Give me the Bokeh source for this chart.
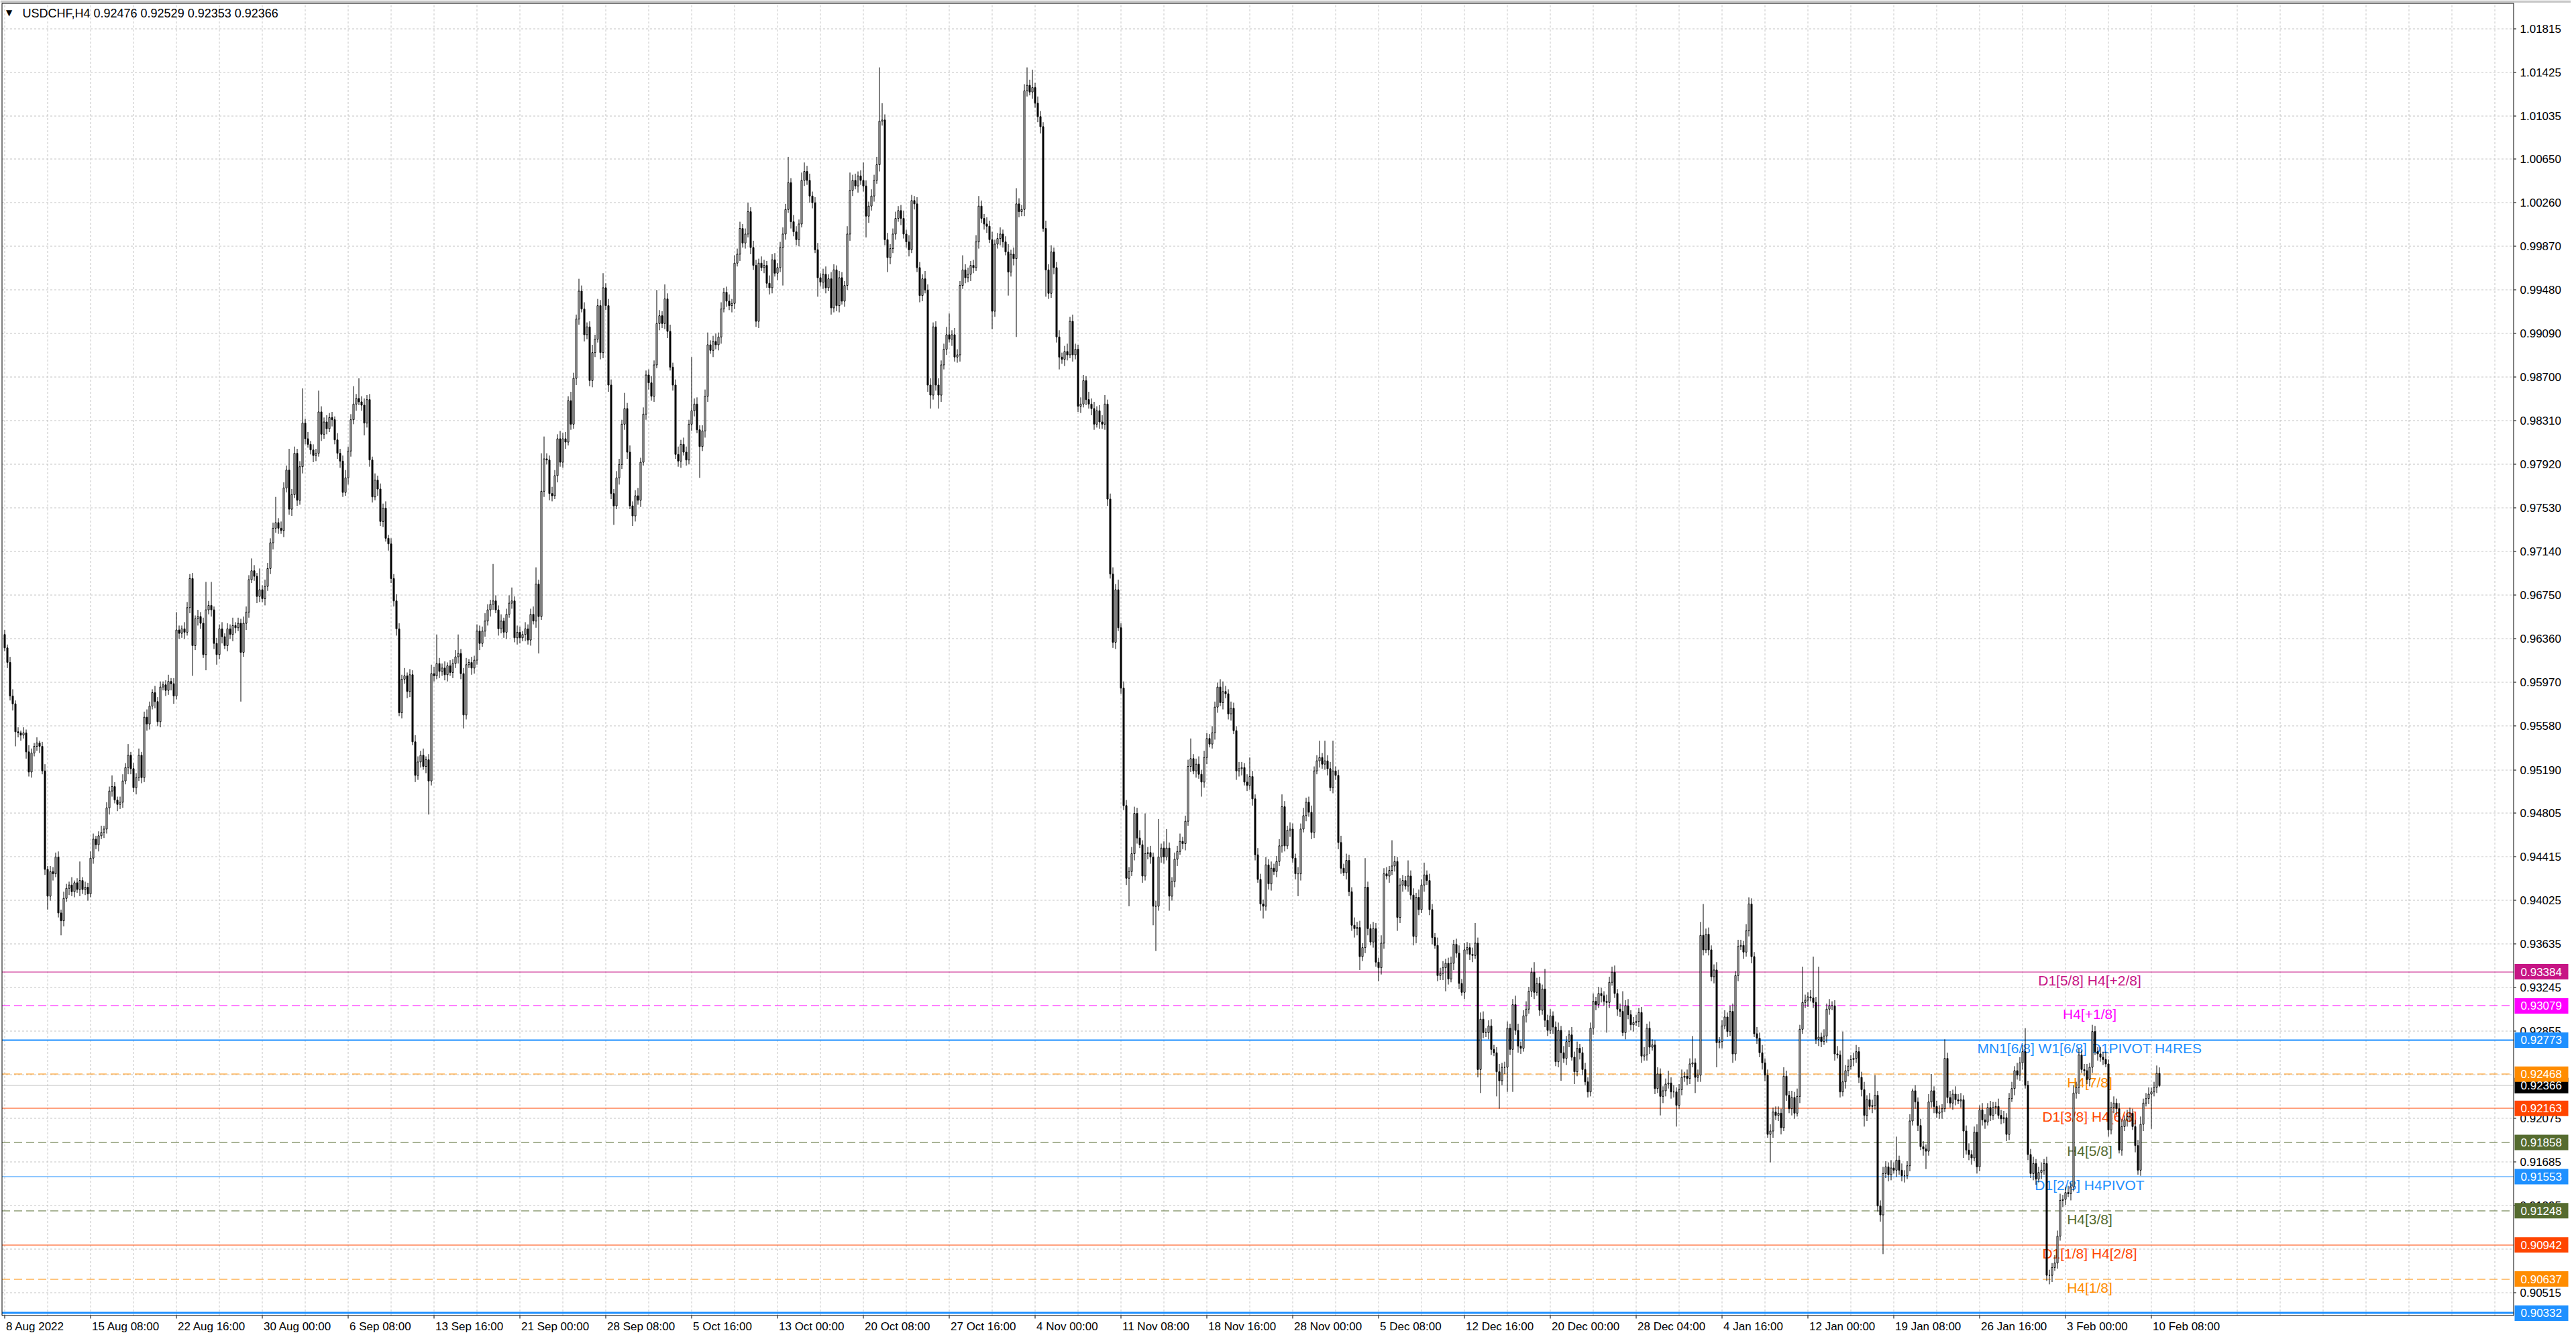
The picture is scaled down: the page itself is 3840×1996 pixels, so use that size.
import numpy as np
from bokeh.plotting import figure
from bokeh.models import Range1d, ColumnDataSource
from bokeh.core.properties import value
from bokeh.embed import file_html
from bokeh.resources import INLINE

# ---------------- data (prices in 1e-4 units, H4 bars, left to right) ----------------
symbol_title = "USDCHF,H4  0.92476 0.92529 0.92353 0.92366"
first_open = 9640

close_pts = [
    9628,9615,9585,9578,9553,9552,9550,9552,9535,9517,9534,9540,9543,9540,9518,9430,9406,9428,9426,9441,
    9391,9384,9404,9413,9416,9410,9418,9412,9420,9412,9414,9408,9440,9457,9452,9460,9463,9466,9485,9500,
    9504,9492,9488,9490,9509,9521,9532,9520,9503,9512,9532,9512,9566,9560,9576,9588,9580,9562,9593,9595,
    9590,9598,9596,9585,9644,9641,9645,9642,9664,9690,9630,9654,9656,9650,9622,9662,9666,9662,9632,9622,
    9645,9638,9630,9645,9640,9648,9646,9650,9624,9650,9660,9689,9697,9692,9674,9680,9672,9683,9699,9722,
    9735,9740,9735,9733,9771,9787,9752,9765,9802,9760,9790,9829,9815,9810,9805,9800,9802,9839,9819,9830,
    9824,9834,9832,9814,9802,9795,9767,9780,9804,9832,9846,9851,9848,9845,9829,9850,9796,9763,9778,9770,
    9741,9753,9726,9721,9690,9670,9645,9570,9600,9603,9589,9604,9544,9514,9526,9532,9522,9528,9509,9605,
    9603,9614,9607,9610,9604,9612,9606,9614,9620,9623,9605,9568,9613,9615,9610,9617,9643,9632,9643,9652,
    9662,9667,9670,9662,9645,9652,9642,9658,9668,9670,9637,9642,9637,9640,9645,9635,9658,9652,9685,9656,
    9768,9797,9796,9766,9764,9782,9815,9794,9815,9812,9849,9828,9869,9922,9947,9931,9908,9915,9867,9892,
    9904,9934,9892,9950,9934,9863,9766,9755,9780,9792,9828,9842,9803,9755,9746,9764,9760,9794,9837,9872,
    9865,9853,9881,9918,9925,9918,9940,9911,9879,9863,9801,9795,9810,9803,9796,9828,9840,9846,9823,9808,
    9822,9853,9899,9894,9902,9899,9906,9931,9946,9938,9934,9936,9972,9980,10003,9990,9998,10018,9986,9970,
    9920,9972,9968,9970,9954,9950,9975,9963,9968,9986,9998,10020,10044,10009,10000,9993,10007,10046,10054,10046,
    10032,10026,9984,9959,9955,9962,9950,9958,9932,9966,9934,9959,9938,9952,9998,10037,10046,10041,10050,10046,
    10041,10014,10023,10032,10046,10060,10099,10100,9993,9977,9985,9998,10012,10019,10012,9998,9991,9984,10028,10025,
    9968,9943,9958,9948,9863,9854,9915,9863,9854,9881,9895,9908,9904,9908,9888,9890,9952,9966,9959,9962,
    9970,9968,9991,10023,10012,10007,10005,9993,9929,9989,9994,9998,9991,9982,9964,9980,9976,10025,10018,10020,
    10126,10131,10125,10129,10115,10103,10094,10003,9966,9945,9982,9968,9906,9888,9886,9893,9890,9920,9890,9895,
    9844,9846,9867,9850,9846,9842,9828,9840,9830,9828,9846,9761,9694,9633,9680,9646,9592,9487,9422,9428,
    9444,9480,9458,9452,9424,9444,9445,9441,9397,9397,9441,9449,9441,9449,9406,9419,9439,9446,9455,9453,
    9473,9522,9529,9518,9524,9515,9508,9530,9547,9542,9552,9575,9593,9579,9589,9587,9569,9574,9554,9518,
    9520,9521,9508,9505,9513,9493,9443,9421,9399,9397,9434,9417,9431,9428,9437,9451,9486,9451,9465,9466,
    9440,9426,9426,9466,9478,9490,9481,9463,9518,9527,9530,9524,9527,9520,9503,9518,9514,9454,9431,9427,
    9438,9410,9380,9377,9378,9352,9360,9414,9377,9365,9377,9347,9342,9364,9426,9424,9429,9433,9437,9387,
    9416,9420,9415,9424,9407,9370,9405,9394,9416,9425,9420,9394,9369,9362,9335,9337,9342,9346,9332,9346,
    9363,9355,9328,9320,9358,9360,9354,9353,9364,9251,9296,9284,9284,9290,9269,9266,9249,9241,9253,9253,
    9288,9269,9309,9286,9272,9270,9299,9305,9321,9338,9320,9328,9304,9323,9295,9286,9299,9289,9258,9286,
    9266,9261,9276,9282,9262,9249,9270,9266,9251,9240,9231,9288,9312,9309,9319,9317,9312,9311,9329,9338,
    9319,9305,9303,9284,9308,9300,9291,9293,9294,9302,9263,9264,9288,9271,9273,9234,9247,9227,9232,9238,
    9239,9231,9231,9219,9233,9244,9245,9243,9256,9257,9244,9246,9371,9358,9372,9358,9334,9340,9275,9276,
    9290,9298,9285,9303,9265,9335,9361,9362,9356,9375,9399,9352,9283,9279,9266,9257,9246,9193,9196,9213,
    9210,9212,9199,9245,9228,9216,9226,9212,9227,9287,9311,9313,9316,9315,9311,9278,9280,9276,9281,9305,
    9308,9308,9265,9264,9231,9240,9250,9254,9260,9261,9267,9244,9233,9210,9224,9218,9219,9228,9129,9121,
    9158,9164,9157,9163,9161,9170,9161,9156,9156,9165,9205,9232,9222,9201,9182,9180,9178,9222,9232,9218,
    9212,9213,9216,9261,9226,9221,9229,9224,9223,9224,9196,9179,9175,9172,9195,9164,9215,9206,9204,9217,
    9210,9217,9218,9210,9207,9208,9193,9225,9234,9250,9246,9257,9267,9237,9175,9158,9167,9153,9159,9161,
    9167,9067,9067,9074,9078,9102,9134,9135,9141,9140,9146,9230,9235,9264,9251,9250,9242,9253,9285,9267,
    9265,9262,9260,9256,9197,9217,9221,9216,9179,9200,9206,9209,9212,9200,9183,9161,9202,9221,9225,9229,
    9231,9235,9247.6,9236.6,
]

upper_wick = [
    4,3,5,6,3,4,2,5,3,6,4,3,5,2,4,6,3,5,4,4,
    5,3,6,4,3,7,2,4,17,3,5,4,6,5,3,4,6,3,5,4,
    10,4,3,5,6,4,10,3,5,4,6,3,5,7,4,3,6,4,5,3,
    4,6,3,5,16,4,3,6,5,4,5,3,6,4,5,25,4,21,3,5,
    4,6,3,5,4,7,3,5,4,6,5,4,11,5,3,19,4,6,5,4,
    5,23,4,6,5,4,19,5,6,4,5,31,4,6,3,5,4,19,5,4,
    6,4,5,3,6,4,5,7,4,5,16,4,18,5,6,4,5,3,6,4,
    5,4,6,3,5,4,6,5,4,7,3,5,4,6,5,4,6,3,5,8,
    6,26,5,4,6,3,5,4,6,17,4,5,6,3,5,4,6,5,4,7,
    5,4,33,5,4,6,3,5,7,12,4,6,5,3,6,4,5,7,15,4,
    34,20,5,4,6,5,4,7,5,6,4,8,5,4,11,5,6,4,5,7,
    4,6,5,13,4,6,5,4,6,5,4,14,5,6,4,5,7,4,6,4,
    5,6,4,30,5,4,13,5,6,4,5,7,4,6,5,4,48,5,6,4,
    5,6,11,4,5,7,4,6,4,5,6,4,7,5,6,4,5,8,4,6,
    5,4,6,5,4,7,5,6,4,5,6,5,23,4,6,5,4,7,8,5,
    6,4,5,6,4,5,7,4,6,5,4,6,5,4,7,16,5,6,4,5,
    16,5,4,6,5,7,48,15,5,6,4,5,6,4,5,7,4,6,5,4,
    6,5,4,7,5,6,4,5,6,4,5,7,19,4,6,5,4,13,5,6,
    4,5,6,9,5,4,6,5,7,4,5,6,4,5,7,4,6,14,5,4,
    6,16,5,16,4,6,5,4,7,5,6,4,5,6,4,5,7,4,6,5,
    4,6,5,4,7,5,6,4,5,6,8,4,5,6,5,9,4,6,5,4,
    6,6,5,7,4,36,5,6,4,5,34,4,6,17,5,4,6,5,7,4,
    5,6,18,4,5,7,4,6,5,4,6,5,4,7,9,5,4,6,5,4,
    6,5,4,7,17,5,4,6,5,4,7,5,6,4,5,6,11,5,4,6,
    5,4,6,5,7,4,5,6,4,5,15,4,18,5,6,27,4,5,6,4,
    6,5,4,7,5,6,4,26,5,4,6,5,4,7,5,6,4,23,5,4,
    6,5,4,14,5,6,4,7,5,11,4,6,5,4,7,5,6,4,5,6,
    4,5,7,4,6,5,4,6,18,5,6,7,4,5,6,4,5,7,4,5,
    6,4,5,8,6,4,5,7,4,4,9,5,6,4,18,5,6,4,5,7,
    4,6,5,4,7,5,6,4,5,6,4,5,7,4,6,5,4,6,5,5,
    6,4,5,18,5,6,4,5,6,4,5,7,4,6,5,4,6,5,4,5,
    11,5,6,4,5,7,4,6,5,24,4,5,12,28,5,6,4,5,7,4,
    5,6,4,5,7,4,6,5,4,6,6,5,4,6,5,7,4,5,6,4,
    5,6,4,8,5,4,6,5,7,4,32,5,4,6,37,5,63,4,6,5,
    6,4,5,7,4,45,5,6,4,5,6,4,5,7,4,6,5,18,4,5,
    6,5,4,7,5,21,4,6,5,4,6,2,5,4,6,5,4,7,15,4,
    5,6,4,17,5,6,4,7,5,6,4,5,6,4,5,7,4,6,5,4,
    6,5,4,7,5,6,4,5,6,4,7,5,6,21,4,5,6,4,5,7,
    4,6,5,4,7,5,6,4,5,6,4,7,5,6,4,5,6,4,6,5,
    4,6,5,7,4,5,6,4,5,7,4,6,5,4,6,5,7,4,5,6,
    4,5,7,5.3,
]

lower_wick = [
    3,5,4,6,13,4,5,3,6,4,5,3,4,6,3,5,12,4,6,3,
    4,13,5,3,6,4,5,3,6,4,5,6,3,5,4,6,3,5,4,6,
    5,3,6,4,5,3,6,5,4,6,3,5,4,6,5,3,6,4,5,3,
    5,4,6,7,3,5,4,6,3,5,27,4,6,5,3,14,4,6,5,9,
    4,6,3,5,4,6,5,3,44,4,6,5,3,4,6,5,3,6,4,5,
    6,4,5,3,6,4,5,6,3,5,4,6,5,3,4,6,5,3,6,4,
    5,3,6,4,5,6,4,3,6,5,4,6,3,5,11,4,6,5,3,6,
    4,5,3,6,4,5,6,3,5,4,6,5,3,6,4,5,3,6,30,4,
    5,3,6,4,5,6,3,5,4,6,5,12,4,3,6,5,4,6,3,5,
    4,6,5,3,6,4,5,6,3,5,4,6,5,3,6,4,5,3,6,33,
    3,5,4,6,5,3,6,4,5,6,3,5,4,6,5,3,6,4,5,6,
    4,3,6,5,4,6,5,17,3,6,4,5,6,3,9,5,4,6,3,5,
    6,4,5,3,6,4,5,6,3,5,4,5,6,3,5,4,6,5,3,28,
    4,6,5,3,6,4,5,6,3,5,4,6,5,3,6,4,5,3,6,4,
    5,6,3,5,4,6,5,3,6,4,34,5,3,6,4,5,6,3,5,4,
    6,5,3,17,4,6,5,3,6,4,5,6,3,5,4,6,5,3,6,4,
    5,19,6,4,5,3,6,4,5,13,6,4,5,3,6,4,5,6,3,5,
    4,6,5,3,6,12,4,5,12,6,4,5,3,6,4,5,6,3,5,4,
    6,5,3,6,4,5,6,3,16,5,4,6,5,3,21,4,6,70,5,4,
    6,5,3,6,4,5,6,3,24,5,4,6,5,11,4,6,5,3,6,4,
    5,6,3,5,4,6,5,3,6,4,5,6,4,5,6,3,5,4,6,25,
    4,6,5,3,6,4,5,6,17,40,4,5,6,3,13,4,5,6,3,5,
    6,4,5,3,6,4,13,5,6,3,4,6,5,3,6,4,5,6,3,8,
    5,6,3,5,4,6,5,3,6,11,4,5,6,3,5,4,6,5,3,6,
    4,5,20,6,3,5,4,6,5,3,6,4,5,6,3,5,4,6,5,3,
    6,4,5,8,6,12,4,5,6,3,5,4,12,6,5,3,6,4,5,12,
    5,6,3,5,4,8,6,5,3,6,4,5,6,3,5,4,6,21,5,3,
    6,4,5,3,6,4,5,6,3,7,21,5,4,6,5,3,22,25,4,6,
    22,5,38,4,6,5,3,6,4,5,6,3,5,4,6,5,3,6,4,5,
    25,4,6,5,3,11,4,6,5,3,5,4,6,5,3,6,4,27,5,3,
    4,6,5,3,6,4,5,6,3,5,6,4,5,6,3,5,4,17,6,5,
    4,6,5,19,3,5,4,6,5,3,14,4,6,5,3,5,4,6,22,5,
    6,3,5,4,8,6,5,3,6,4,5,6,3,5,4,6,5,3,25,6,
    4,5,6,3,5,4,6,5,3,6,4,5,6,3,5,4,6,5,3,6,
    5,4,6,3,5,4,6,5,3,6,4,5,6,10,5,3,6,4,5,6,
    35,4,6,5,3,6,4,5,6,3,5,4,6,5,3,6,16,4,5,6,
    4,5,6,3,5,4,6,5,3,6,24,4,5,6,3,6,4,5,6,3,
    5,4,6,3,5,4,6,5,3,6,4,5,6,3,5,4,6,5,3,6,
    4,5,8,6,3,5,4,6,5,3,6,4,5,6,3,5,4,6,5,3,
    6,4,5,3,6,4,5,6,3,5,4,6,5,3,6,4,5,6,3,5,
    31,4,5,1.3,
]

time_labels = ["8 Aug 2022", "15 Aug 08:00", "22 Aug 16:00", "30 Aug 00:00", "6 Sep 08:00",
               "13 Sep 16:00", "21 Sep 00:00", "28 Sep 08:00", "5 Oct 16:00", "13 Oct 00:00",
               "20 Oct 08:00", "27 Oct 16:00", "4 Nov 00:00", "11 Nov 08:00", "18 Nov 16:00",
               "28 Nov 00:00", "5 Dec 08:00", "12 Dec 16:00", "20 Dec 00:00", "28 Dec 04:00",
               "4 Jan 16:00", "12 Jan 00:00", "19 Jan 08:00", "26 Jan 16:00", "3 Feb 00:00",
               "10 Feb 08:00"]
time_label_bars = [0, 32, 64, 96, 128, 160, 192, 224, 256, 288, 320, 352, 384, 416, 448,
                   480, 512, 544, 576, 608, 640, 672, 704, 736, 768, 800]

price_ticks = [1.01815, 1.01425, 1.01035, 1.00650, 1.00260, 0.99870, 0.99480, 0.99090,
               0.98700, 0.98310, 0.97920, 0.97530, 0.97140, 0.96750, 0.96360, 0.95970,
               0.95580, 0.95190, 0.94805, 0.94415, 0.94025, 0.93635, 0.93245, 0.92855,
               0.92465, 0.92075, 0.91685, 0.91295, 0.90905, 0.90515]
hidden_ticks = [0.92465, 0.90905]

level_values = [0.93384, 0.93079, 0.92773, 0.92468, 0.92163, 0.91858,
                0.91553, 0.91248, 0.90942, 0.90637, 0.90332]
level_names = ["D1[5/8] H4[+2/8]", "H4[+1/8]", "MN1[6/8] W1[6/8] D1PIVOT H4RES", "H4[7/8]",
               "D1[3/8] H4[6/8]", "H4[5/8]", "D1[2/8] H4PIVOT", "H4[3/8]",
               "D1[1/8] H4[2/8]", "H4[1/8]", ""]
level_colors = ["#C71585", "#FF00FF", "#1E90FF", "#FF8C00", "#FF4500", "#556B2F",
                "#1E90FF", "#556B2F", "#FF4500", "#FF8C00", "#1E90FF"]
level_dashed = [False, True, False, True, False, True, False, True, False, True, False]
level_widths = [1, 1, 2, 1, 1, 1, 1, 1, 1, 1, 3]
current_price = 0.92366

# ---------------- derived OHLC ----------------
C = np.array(close_pts, dtype=float) / 1e4
O = np.concatenate([[first_open / 1e4], C[:-1]])
H = np.maximum(O, C) + np.array(upper_wick, dtype=float) / 1e4
L = np.minimum(O, C) - np.array(lower_wick, dtype=float) / 1e4
X = np.arange(len(C), dtype=float)
bull = C >= O

# ---------------- geometry: one canvas, positions given in page pixels ----------------
W, HGT = 3832, 1990
PP = 0.00005998          # price per pixel
Y_TOP = 1.020698         # price at the very top pixel row


def xd(px):
    return (px - 6.5) / 4.0


def yd(py):
    return Y_TOP - py * PP


def ysnap(v, w=1):
    """price -> price of the nearest crisp pixel row for a line of width w"""
    py = (Y_TOP - v) / PP
    py = np.floor(py) + 0.5 if w % 2 == 1 else np.round(py)
    return yd(py)


CL, CR = xd(2.5), xd(3746.5)      # chart frame left / right
CT, CB = yd(4.5), yd(1960.5)      # chart frame top / bottom
FONT = "Liberation Sans"

p = figure(width=W, height=HGT, x_range=Range1d(xd(0), xd(W)), y_range=Range1d(yd(HGT), Y_TOP),
           x_axis_location=None, y_axis_location=None,
           output_backend="svg", toolbar_location=None, min_border=0,
           background_fill_color="white", border_fill_color="white", outline_line_color=None)
p.grid.visible = False

# window strip on top
p.quad(left=[xd(0)], right=[xd(W)], top=[yd(0)], bottom=[yd(3.5)],
       fill_color="#c8c8c8", line_color=None)

# grid
vg = [b for b in range(0, 1000, 16) if b < CR]
p.segment(x0=vg, y0=[CB] * len(vg), x1=vg, y1=[CT] * len(vg),
          line_color="#c4c4c4", line_width=1, line_dash="3 3")
gy = [ysnap(t) for t in price_ticks]
p.segment(x0=[CL] * len(gy), y0=gy, x1=[CR] * len(gy), y1=gy,
          line_color="#c4c4c4", line_width=1, line_dash="3 3")

# level lines
for val, col, dashed, w in zip(level_values, level_colors, level_dashed, level_widths):
    yy = ysnap(val, w)
    p.segment(x0=[CL], y0=[yy], x1=[CR], y1=[yy], line_color=col, line_width=w,
              line_dash="12 6" if dashed else "solid")
cy = ysnap(current_price)
p.segment(x0=[CL], y0=[cy], x1=[CR], y1=[cy], line_color="#c0c0c0", line_width=1)

# level names
names_src = ColumnDataSource(dict(
    x=[777.0] * len(level_values),
    y=[v - 1.0 * PP for v in level_values],
    t=level_names, c=level_colors))
p.text(x="x", y="y", text="t", text_color="c", source=names_src,
       text_font=value(FONT), text_font_size="21px",
       text_align="center", text_baseline="top")

# candles
wick_src = ColumnDataSource(dict(x=X, hi=H, lo=L))
p.segment(x0="x", y0="hi", x1="x", y1="lo", source=wick_src,
          line_color="black", line_width=1)
bull_src = ColumnDataSource(dict(x=X[bull], top=C[bull], bottom=O[bull]))
bear_src = ColumnDataSource(dict(x=X[~bull], top=O[~bull], bottom=C[~bull]))
p.vbar(x="x", width=0.5, top="top", bottom="bottom", source=bull_src,
       fill_color="white", line_color="black", line_width=1)
p.vbar(x="x", width=0.5, top="top", bottom="bottom", source=bear_src,
       fill_color="black", line_color="black", line_width=1)

# chart frame
p.line(x=[CL, CR, CR, CL, CL], y=[CT, CT, CB, CB, CT], line_color="black", line_width=1)

# price scale (right)
vis_ticks = [t for t in price_ticks if t not in hidden_ticks]
ty = [ysnap(t) for t in vis_ticks]
p.segment(x0=[CR] * len(ty), y0=ty, x1=[xd(3750.5)] * len(ty), y1=ty,
          line_color="black", line_width=1)
tick_src = ColumnDataSource(dict(x=[xd(3756)] * len(vis_ticks), y=vis_ticks,
                                 t=[f"{t:.5f}" for t in vis_ticks]))
p.text(x="x", y="y", text="t", source=tick_src, text_color="black",
       text_font=value(FONT), text_font_size="17px", text_align="left", text_baseline="middle")

# coloured price boxes
box_values = [current_price] + level_values
box_colors = ["black"] + level_colors
p.quad(left=[xd(3748)] * len(box_values), right=[xd(3828)] * len(box_values),
       top=[v + 11.5 * PP for v in box_values], bottom=[v - 11.5 * PP for v in box_values],
       fill_color=box_colors, line_color=None)
box_src = ColumnDataSource(dict(x=[xd(3757)] * len(box_values), y=box_values,
                                t=[f"{v:.5f}" for v in box_values]))
p.text(x="x", y="y", text="t", source=box_src, text_color="white",
       text_font=value(FONT), text_font_size="17px", text_align="left", text_baseline="middle")

# time scale (bottom)
p.segment(x0=time_label_bars, y0=[CB] * len(time_label_bars),
          x1=time_label_bars, y1=[yd(1965)] * len(time_label_bars),
          line_color="black", line_width=1)
time_src = ColumnDataSource(dict(x=[b + 0.5 for b in time_label_bars],
                                 y=[yd(1977)] * len(time_label_bars), t=time_labels))
p.text(x="x", y="y", text="t", source=time_src, text_color="black",
       text_font=value(FONT), text_font_size="17px", text_align="left", text_baseline="middle")

# symbol header
p.text(x=[xd(13)], y=[yd(18.5)], text=["▼"], text_color="black",
       text_font=value("DejaVu Sans"), text_font_size="12px",
       text_align="center", text_baseline="middle")
p.text(x=[xd(33)], y=[yd(19.5)], text=[symbol_title], text_color="black",
       text_font=value(FONT), text_font_size="18px",
       text_align="left", text_baseline="middle")

open("out.html", "w").write(file_html(p, INLINE, title="USDCHF,H4"))
